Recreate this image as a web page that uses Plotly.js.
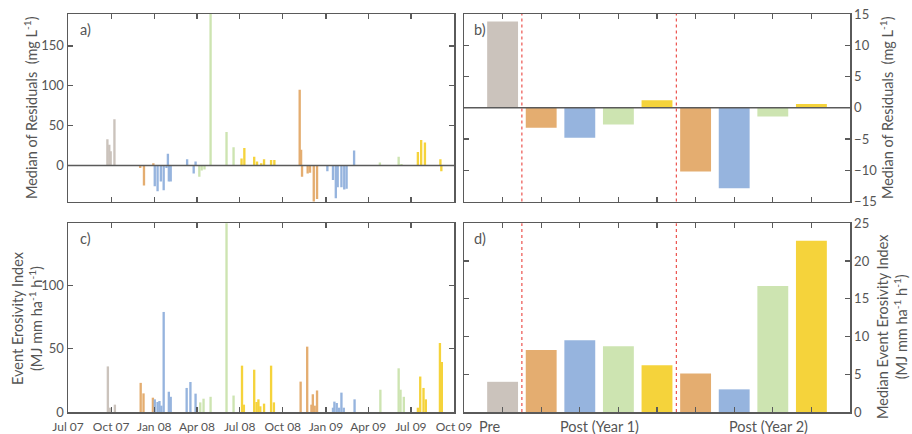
<!DOCTYPE html>
<html>
<head>
<meta charset="utf-8">
<script src="https://cdn.plot.ly/plotly-3.0.1.min.js"></script>
<style>html,body{margin:0;padding:0;background:#fff;}#chart{width:912px;height:434px;}</style>
</head>
<body>
<div id="chart"></div>
<script>
// ---------- Panel b/d categories ----------
const catNames = ['Pre', 'Y1 Fall', 'Y1 Winter', 'Y1 Spring', 'Y1 Summer', 'Y2 Fall', 'Y2 Winter', 'Y2 Spring', 'Y2 Summer'];
const catColors = ['#cbc3bc', '#e4ad70', '#96b4de', '#cde4b1', '#f5d33b', '#e4ad70', '#96b4de', '#cde4b1', '#f5d33b'];
const medianResiduals = [13.8, -3.2, -4.8, -2.7, 1.2, -10.2, -12.9, -1.4, 0.6];
const medianEI = [4.0, 8.2, 9.5, 8.7, 6.2, 5.1, 3.0, 16.7, 22.7];
const groupLabels = ['Pre', 'Post (Year 1)', 'Post (Year 2)'];

// ---------- Panel a: event residuals ----------
const aPreDates = ['2007-09-23', '2007-09-27', '2007-09-30', '2007-10-08'];
const aPreVals = [33, 26, 18, 58];
const aY1FallDates = ['2007-12-02', '2007-12-10', '2007-12-30'];
const aY1FallVals = [-3, -25, 3];
const aY1WinterDates = ['2008-01-02', '2008-01-08', '2008-01-15', '2008-01-21', '2008-01-27', '2008-01-30', '2008-02-01', '2008-02-05', '2008-03-11', '2008-03-25', '2008-03-29'];
const aY1WinterVals = [-26, -32, -20, -31, -3, 15, -20, -20, 8, -10, 5];
const aY1SpringDates = ['2008-04-06', '2008-04-11', '2008-04-17', '2008-04-30', '2008-06-03', '2008-06-18'];
const aY1SpringVals = [-14, -6, -5, 240, 42, 23];
const aY1SummerDates = ['2008-07-05', '2008-07-11', '2008-08-01', '2008-08-07', '2008-08-16', '2008-08-22', '2008-09-06', '2008-09-13'];
const aY1SummerVals = [9, 22, 11, 5, 3, 8, 7, 7];
const aY2FallDates = ['2008-11-06', '2008-11-09', '2008-11-11', '2008-11-23', '2008-11-28', '2008-12-06', '2008-12-13'];
const aY2FallVals = [95, 20, -14, -10, -9, -48, -42];
const aY2WinterDates = ['2009-01-04', '2009-01-16', '2009-01-22', '2009-01-26', '2009-02-03', '2009-02-09', '2009-02-14', '2009-03-02'];
const aY2WinterVals = [-7, -18, -41, -27, -27, -30, -29, 19];
const aY2SpringDates = ['2009-04-26', '2009-06-05', '2009-06-11'];
const aY2SpringVals = [4, 11, 2];
const aY2SummerDates = ['2009-07-16', '2009-07-23', '2009-07-31', '2009-09-02', '2009-09-04'];
const aY2SummerVals = [17, 32, 29, 8, -7];

// ---------- Panel c: event erosivity index ----------
const cPreDates = ['2007-09-24', '2007-09-29', '2007-10-09'];
const cPreVals = [36, 3.4, 5.8];
const cY1FallDates = ['2007-12-03', '2007-12-09', '2007-12-29'];
const cY1FallVals = [23, 14.7, 11.3];
const cY1WinterDates = ['2008-01-02', '2008-01-08', '2008-01-12', '2008-01-16', '2008-01-21', '2008-02-01', '2008-02-05', '2008-03-10', '2008-03-18', '2008-03-29', '2008-04-01'];
const cY1WinterVals = [10, 7.9, 8.7, 5, 79, 16, 12, 19, 23.7, 14.5, 4];
const cY1SpringDates = ['2008-04-08', '2008-04-15', '2008-04-30', '2008-06-03', '2008-06-18'];
const cY1SpringVals = [7.6, 10.5, 12, 160, 13];
const cY1SummerDates = ['2008-07-06', '2008-07-10', '2008-08-01', '2008-08-06', '2008-08-10', '2008-08-14', '2008-08-22', '2008-09-06', '2008-09-12'];
const cY1SummerVals = [36.6, 5.8, 33.4, 7.9, 10, 4.5, 6.6, 36.6, 7.6];
const cY2FallDates = ['2008-11-08', '2008-11-22', '2008-12-01', '2008-12-04', '2008-12-08', '2008-12-13'];
const cY2FallVals = [24, 51.6, 5.8, 14, 5, 17];
const cY2WinterDates = ['2009-01-16', '2009-01-19', '2009-01-24', '2009-01-29', '2009-02-03', '2009-02-08', '2009-03-03'];
const cY2WinterVals = [3.4, 8.2, 7.1, 3.4, 15.3, 3.4, 10];
const cY2SpringDates = ['2009-04-27', '2009-06-05', '2009-06-09', '2009-06-16'];
const cY2SpringVals = [17.6, 34.5, 17.6, 12];
const cY2SummerDates = ['2009-07-16', '2009-07-21', '2009-07-28', '2009-08-02', '2009-09-01', '2009-09-05'];
const cY2SummerVals = [3.4, 28, 19, 10, 54.5, 39.5];

// ---------- build ----------
const DAY = 86400000;
const evWidth = 5 * DAY;
const axCol = '#5a5a5a';
const txtCol = '#555555';

const aSeries = [
  [aPreDates, aPreVals, catColors[0]],
  [aY1FallDates, aY1FallVals, catColors[1]],
  [aY1WinterDates, aY1WinterVals, catColors[2]],
  [aY1SpringDates, aY1SpringVals, catColors[3]],
  [aY1SummerDates, aY1SummerVals, catColors[4]],
  [aY2FallDates, aY2FallVals, catColors[5]],
  [aY2WinterDates, aY2WinterVals, catColors[6]],
  [aY2SpringDates, aY2SpringVals, catColors[7]],
  [aY2SummerDates, aY2SummerVals, catColors[8]]
];
const cSeries = [
  [cPreDates, cPreVals, catColors[0]],
  [cY1FallDates, cY1FallVals, catColors[1]],
  [cY1WinterDates, cY1WinterVals, catColors[2]],
  [cY1SpringDates, cY1SpringVals, catColors[3]],
  [cY1SummerDates, cY1SummerVals, catColors[4]],
  [cY2FallDates, cY2FallVals, catColors[5]],
  [cY2WinterDates, cY2WinterVals, catColors[6]],
  [cY2SpringDates, cY2SpringVals, catColors[7]],
  [cY2SummerDates, cY2SummerVals, catColors[8]]
];

const traces = [];
aSeries.forEach((s, i) => traces.push({
  type: 'bar', x: s[0], y: s[1], width: s[0].map(() => evWidth),
  marker: {color: s[2], line: {width: 0}}, xaxis: 'x', yaxis: 'y', name: catNames[i], hoverinfo: 'skip'
}));
cSeries.forEach((s, i) => traces.push({
  type: 'bar', x: s[0], y: s[1], width: s[0].map(() => evWidth),
  marker: {color: s[2], line: {width: 0}}, xaxis: 'x3', yaxis: 'y3', name: catNames[i], hoverinfo: 'skip'
}));
traces.push({type: 'bar', x: catNames, y: medianResiduals, width: 0.8,
  marker: {color: catColors, line: {width: 0}}, xaxis: 'x2', yaxis: 'y2', hoverinfo: 'skip'});
traces.push({type: 'bar', x: catNames, y: medianEI, width: 0.8,
  marker: {color: catColors, line: {width: 0}}, xaxis: 'x4', yaxis: 'y4', hoverinfo: 'skip'});

const W = 912, H = 434, ML = 68, MR = 62, MT = 14, MB = 22;
const pw = W - ML - MR, ph = H - MT - MB;
const leftDom = [0, 386 / pw];
const rightDom = [(464 - ML) / pw, 1];
const topDom = [(H - MB - 201.5) / ph, 1];
const botDom = [0, (H - MB - 223.3) / ph];

const tickFont = {family: 'Lato, sans-serif', size: 13, color: txtCol};
const dateTickFont = {family: 'Lato, sans-serif', size: 12, color: txtCol};
const titleFont = {family: 'Lato, sans-serif', size: 14.5, color: txtCol};
const baseAxis = {
  showline: true, linecolor: axCol, linewidth: 1.5, mirror: 'ticks',
  ticks: 'inside', ticklen: 5, tickwidth: 1.3, tickcolor: axCol,
  showgrid: false, zeroline: false, fixedrange: true,
  tickfont: tickFont
};
const dateAxis = Object.assign({}, baseAxis, {
  type: 'date', range: ['2007-07-01', '2009-10-01'], tick0: '2007-07-01', dtick: 'M3', tickformat: '%b %y',
  tickfont: dateTickFont
});

const layout = {
  width: W, height: H,
  margin: {l: ML, r: MR, t: MT, b: MB, pad: 0},
  paper_bgcolor: '#fff', plot_bgcolor: '#fff',
  showlegend: false, barmode: 'overlay',
  font: {family: 'Lato, sans-serif', size: 13, color: txtCol},
  xaxis: Object.assign({}, dateAxis, {domain: leftDom, anchor: 'y', showticklabels: false}),
  yaxis: Object.assign({}, baseAxis, {domain: topDom, anchor: 'x', range: [-45, 190], tickvals: [0, 50, 100, 150],
    title: {text: 'Median of Residuals  (mg L<sup>-1</sup>)', font: titleFont, standoff: 0}}),
  xaxis2: Object.assign({}, baseAxis, {domain: rightDom, anchor: 'y2', type: 'category', range: [-1, 9], showticklabels: false}),
  yaxis2: Object.assign({}, baseAxis, {domain: topDom, anchor: 'x2', side: 'right', range: [-15, 15], dtick: 5,
    title: {text: 'Median of Residuals  (mg L<sup>-1</sup>)', font: titleFont, standoff: 6}}),
  xaxis3: Object.assign({}, dateAxis, {domain: leftDom, anchor: 'y3', showticklabels: true, ticklabelstandoff: 3}),
  yaxis3: Object.assign({}, baseAxis, {domain: botDom, anchor: 'x3', range: [0, 149], tickvals: [0, 50, 100]}),
  xaxis4: Object.assign({}, baseAxis, {domain: rightDom, anchor: 'y4', type: 'category', range: [-1, 9], showticklabels: false}),
  yaxis4: Object.assign({}, baseAxis, {domain: botDom, anchor: 'x4', side: 'right', range: [0, 25], dtick: 5}),
  shapes: [
    {type: 'line', xref: 'x domain', yref: 'y', x0: 0, x1: 1, y0: 0, y1: 0, line: {color: axCol, width: 1.5}, layer: 'above'},
    {type: 'line', xref: 'x2 domain', yref: 'y2', x0: 0, x1: 1, y0: 0, y1: 0, line: {color: axCol, width: 1.5}, layer: 'above'},
    {type: 'line', xref: 'x2', yref: 'y2 domain', x0: 0.5, x1: 0.5, y0: 0, y1: 1, line: {color: '#e8302a', width: 1, dash: 'dot'}},
    {type: 'line', xref: 'x2', yref: 'y2 domain', x0: 4.5, x1: 4.5, y0: 0, y1: 1, line: {color: '#e8302a', width: 1, dash: 'dot'}},
    {type: 'line', xref: 'x4', yref: 'y4 domain', x0: 0.5, x1: 0.5, y0: 0, y1: 1, line: {color: '#e8302a', width: 1, dash: 'dot'}},
    {type: 'line', xref: 'x4', yref: 'y4 domain', x0: 4.5, x1: 4.5, y0: 0, y1: 1, line: {color: '#e8302a', width: 1, dash: 'dot'}}
  ],
  annotations: [
    {text: 'a)', xref: 'x domain', yref: 'y domain', x: 0.025, y: 0.975, xanchor: 'left', yanchor: 'top', showarrow: false, font: titleFont},
    {text: 'b)', xref: 'x2 domain', yref: 'y2 domain', x: 0.022, y: 0.975, xanchor: 'left', yanchor: 'top', showarrow: false, font: titleFont},
    {text: 'c)', xref: 'x3 domain', yref: 'y3 domain', x: 0.025, y: 0.975, xanchor: 'left', yanchor: 'top', showarrow: false, font: titleFont},
    {text: 'd)', xref: 'x4 domain', yref: 'y4 domain', x: 0.022, y: 0.975, xanchor: 'left', yanchor: 'top', showarrow: false, font: titleFont},
    {text: groupLabels[0], xref: 'x4', yref: 'y4 domain', x: -0.33, y: -0.078, xanchor: 'center', yanchor: 'middle', showarrow: false, font: titleFont},
    {text: groupLabels[1], xref: 'x4', yref: 'y4 domain', x: 2.5, y: -0.078, xanchor: 'center', yanchor: 'middle', showarrow: false, font: titleFont},
    {text: groupLabels[2], xref: 'x4', yref: 'y4 domain', x: 6.9, y: -0.078, xanchor: 'center', yanchor: 'middle', showarrow: false, font: titleFont},
    {text: 'Event Erosivity Index<br>(MJ mm ha<sup>-1</sup> h<sup>-1</sup>)', xref: 'paper', yref: 'paper',
      x: (27 - ML) / pw, y: (H - MB - 318) / ph, xanchor: 'center', yanchor: 'middle', textangle: -90, showarrow: false, font: titleFont},
    {text: 'Median Event Erosivity Index<br>(MJ mm ha<sup>-1</sup> h<sup>-1</sup>)', xref: 'paper', yref: 'paper',
      x: (892 - ML) / pw, y: (H - MB - 326) / ph, xanchor: 'center', yanchor: 'middle', textangle: -90, showarrow: false, font: titleFont}
  ]
};

Plotly.newPlot('chart', traces, layout, {staticPlot: true, displayModeBar: false});
</script>
</body>
</html>
